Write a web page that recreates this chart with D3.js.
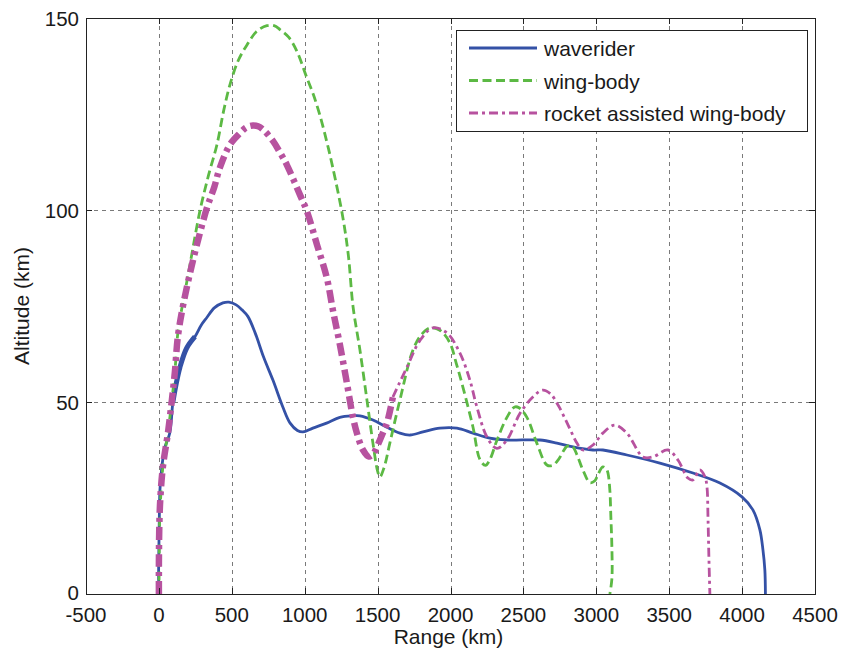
<!DOCTYPE html>
<html>
<head>
<meta charset="utf-8">
<script src="https://cdn.jsdelivr.net/npm/d3@7"></script>
<style>
  html, body { margin: 0; padding: 0; background: #fff; }
  svg { display: block; font-family: "Liberation Sans", Arial, sans-serif; }
</style>
</head>
<body>
<svg id="chart" width="841" height="651"></svg>
<script>
// ---------- data ----------
const xTicks = [-500, 0, 500, 1000, 1500, 2000, 2500, 3000, 3500, 4000, 4500];
const yTicks = [0, 50, 100, 150];
const seriesNames = ["waverider", "wing-body", "rocket assisted wing-body"];

const waverider = [
  [0,0],[-2,5],[0,12],[3,20],[7,27],[20,33],[40,38],[75,42],[96,50],[120,55],[144,59],
  [190,64],[247,67],[290,70],[329,72],[380,74.5],[439,75.8],[480,76],[530,75.3],[570,74],
  [610,72.3],[660,68],[720,61.5],[782,55.7],[850,48.7],[900,44.5],[950,42.6],[988,42.2],[1056,43.2],
  [1150,44.5],[1241,46],[1330,46.4],[1379,46.4],[1468,45.3],[1560,43.5],[1653,41.9],
  [1722,41.4],[1811,42.2],[1927,43.2],[2044,43.2],[2154,41.9],[2270,40.6],[2387,40.1],
  [2613,40.1],[2730,39.3],[2840,38.3],[2977,37.5],[3045,37.5],[3210,36.2],[3436,34.1],
  [3663,31.5],[3848,28.9],[3999,25.3],[4074,21.9],[4122,16.7],[4143,11.5],[4156,6.3],[4160,0]
];
// short thicker stretch of the waverider trace near launch
const waveriderThick = [[96,50],[120,55],[144,59],[190,64],[247,67]];

const wingBody = [
  [0,0],[2,8],[5,19],[15,27],[27,33],[45,38],[62,42],[89,50.5],[110,58],[130,68],[165,76],
  [200,83],[233,90],[281,99.7],[340,109],[398,117],[445,126],[490,133],[545,139],[604,143],
  [670,146.5],[741,148],[790,148],[830,147],[890,145],[946,141.4],[1015,134.4],[1060,130],
  [1104,124.7],[1150,118],[1193,111],[1262,98],[1300,88],[1331,75],[1379,63.5],[1427,50.5],
  [1468,39.3],[1500,32],[1516,30.5],[1545,33],[1584,39.3],[1653,50.5],[1742,63.5],[1800,67.5],
  [1859,69.3],[1927,68.7],[1996,65.4],[2040,60],[2085,53.9],[2154,43.5],[2202,35],[2240,33.5],
  [2270,35],[2318,40],[2387,46],[2440,48.7],[2470,48.5],[2524,46],[2592,39.3],[2661,33.6],
  [2700,33.5],[2740,35],[2800,38.5],[2835,38.5],[2870,36],[2908,32.3],[2956,29],[2990,29.5],
  [3010,31],[3045,33.1],[3070,32.5],[3080,31.5],[3093,27],[3100,20],[3107,12],[3107,4],[3093,0]
];

const rocketThick = [
  [0,0],[0,8],[3,18],[10,25],[27,33],[62,42],[89,50.5],[110,58],[130,67],[165,75],[210,83],
  [261,91],[329,100.5],[380,106],[418,111],[487,117],[556,120],[600,121.5],[645,122],[680,121.8],
  [713,121],[782,118],[830,115],[878,111.7],[967,104],[1015,99.7],[1084,91],[1152,82.3],
  [1193,74],[1241,65],[1289,55],[1331,46],[1358,41.9],[1400,37.5],[1440,35.8],[1470,36.5],
  [1495,38.3],[1537,42],[1564,44.5],[1605,51.3]
];
const rocketThin = [
  [1605,51.3],[1650,55],[1701,59],[1790,66],[1879,69.3],[1975,68],[2064,62.8],[2133,55.7],
  [2181,48.7],[2250,40.9],[2318,37.9],[2387,40.1],[2476,47],[2565,51.3],[2633,53.1],[2690,52],
  [2730,49.7],[2750,48.4],[2819,43],[2867,39.3],[2908,37.5],[2977,38.8],[3045,41.9],[3127,44],
  [3210,41.9],[3320,35.7],[3388,35.7],[3491,37.5],[3560,34.9],[3628,30.2],[3663,29.7],
  [3710,32.3],[3745,30.5],[3759,27.9],[3766,20],[3772,10],[3779,0]
];

// ---------- layout ----------
const svg = d3.select("#chart");
const L = 86, T = 18, W = 729, H = 576;
const x = d3.scaleLinear().domain([-500, 4500]).range([L, L + W]);
const y = d3.scaleLinear().domain([0, 150]).range([T + H, T]);

const colors = { blue: "#3451a6", green: "#5cb944", magenta: "#b7529f" };
const fontSize = 20.5;

// grid
const grid = svg.append("g").attr("stroke", "#7a7a7a").attr("stroke-width", 1)
  .attr("stroke-dasharray", "4,4").attr("shape-rendering", "crispEdges");
xTicks.slice(1, -1).forEach(t => {
  grid.append("line").attr("x1", Math.round(x(t)) + 0.5).attr("x2", Math.round(x(t)) + 0.5)
    .attr("y1", T).attr("y2", T + H);
});
yTicks.slice(1, -1).forEach(t => {
  grid.append("line").attr("y1", Math.round(y(t)) + 0.5).attr("y2", Math.round(y(t)) + 0.5)
    .attr("x1", L).attr("x2", L + W);
});

// lines
const line = d3.line().x(d => x(d[0])).y(d => y(d[1])).curve(d3.curveCatmullRom.alpha(0.5));
const plot = svg.append("g").attr("fill", "none").attr("stroke-linejoin", "round");

plot.append("path").datum(waverider).attr("d", line)
  .attr("stroke", colors.blue).attr("stroke-width", 2.8);
plot.append("path").datum(waveriderThick).attr("d", line)
  .attr("stroke", colors.blue).attr("stroke-width", 5);

plot.append("path").datum(wingBody).attr("d", line)
  .attr("stroke", colors.green).attr("stroke-width", 2.8).attr("stroke-dasharray", "9,4.5");

plot.append("path").datum(rocketThick).attr("d", line)
  .attr("stroke", colors.magenta).attr("stroke-width", 6.5).attr("stroke-dasharray", "13,5,4,5");
plot.append("path").datum(rocketThin).attr("d", line)
  .attr("stroke", colors.magenta).attr("stroke-width", 2.8).attr("stroke-dasharray", "9,4,3,4");

// axes box
const axes = svg.append("g").attr("shape-rendering", "crispEdges");
axes.append("rect").attr("x", L + 0.5).attr("y", T + 0.5).attr("width", W).attr("height", H)
  .attr("fill", "none").attr("stroke", "#222").attr("stroke-width", 1.2);

// inward ticks on all four sides
const tk = 6;
xTicks.forEach(t => {
  const px = Math.round(x(t)) + 0.5;
  axes.append("line").attr("x1", px).attr("x2", px).attr("y1", T + H).attr("y2", T + H - tk).attr("stroke", "#222");
  axes.append("line").attr("x1", px).attr("x2", px).attr("y1", T).attr("y2", T + tk).attr("stroke", "#222");
});
yTicks.forEach(t => {
  const py = Math.round(y(t)) + 0.5;
  axes.append("line").attr("y1", py).attr("y2", py).attr("x1", L).attr("x2", L + tk).attr("stroke", "#222");
  axes.append("line").attr("y1", py).attr("y2", py).attr("x1", L + W).attr("x2", L + W - tk).attr("stroke", "#222");
});

// tick labels
const labels = svg.append("g").attr("fill", "#1a1a1a").attr("font-size", fontSize);
xTicks.forEach(t => {
  labels.append("text").attr("x", x(t)).attr("y", T + H + 28).attr("text-anchor", "middle").text(t);
});
yTicks.forEach(t => {
  labels.append("text").attr("x", L - 7).attr("y", y(t) + (t === 0 ? 5.5 : 7.5)).attr("text-anchor", "end").text(t);
});

// axis titles
labels.append("text").attr("x", x(2000) - 2).attr("y", 644).attr("font-size", 21).attr("text-anchor", "middle").text("Range (km)");
labels.append("text").attr("transform", `translate(29, ${y(75)}) rotate(-90)`)
  .attr("font-size", 21).attr("text-anchor", "middle").text("Altitude (km)");

// legend
const lg = svg.append("g");
lg.append("rect").attr("x", 456.5).attr("y", 30.5).attr("width", 351).attr("height", 101)
  .attr("fill", "#fff").attr("stroke", "#222").attr("stroke-width", 1.2).attr("shape-rendering", "crispEdges");
const legendStyles = [
  { c: colors.blue, dash: null },
  { c: colors.green, dash: "9,4.5" },
  { c: colors.magenta, dash: "9,4,3,4" }
];
const rowsY = [48, 80.5, 113];
seriesNames.forEach((name, i) => {
  const ln = lg.append("line").attr("x1", 469).attr("x2", 537).attr("y1", rowsY[i]).attr("y2", rowsY[i])
    .attr("stroke", legendStyles[i].c).attr("stroke-width", 2.8);
  if (legendStyles[i].dash) ln.attr("stroke-dasharray", legendStyles[i].dash);
  lg.append("text").attr("x", 544).attr("y", rowsY[i] + 8).attr("font-size", 21)
    .attr("fill", "#1a1a1a").text(name);
});
</script>
</body>
</html>
